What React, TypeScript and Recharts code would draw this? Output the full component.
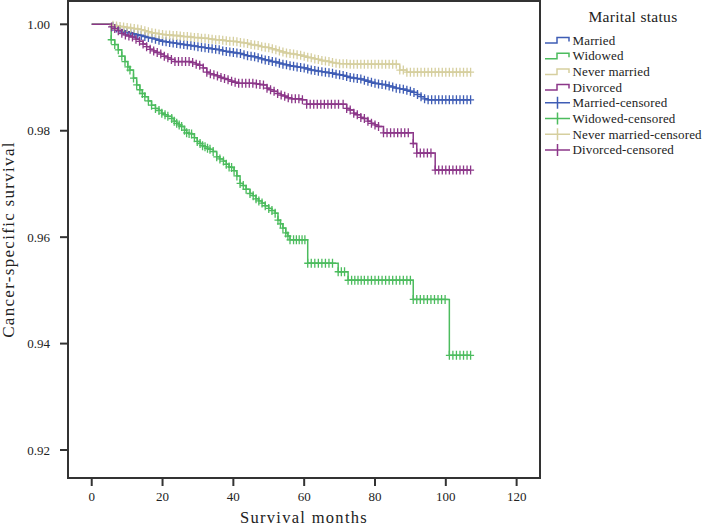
import { Legend, Line, LineChart, ReferenceArea, XAxis, YAxis } from 'recharts';

// Kaplan-Meier points [month, survival]; the first two points of each curve carry no censor mark
const married: [number, number][] = [
  [0, 1], [5.5, 1], [6, 0.9996], [7, 0.9993], [8, 0.999], [9, 0.9988], [10, 0.9986], [11, 0.9984],
  [12, 0.9982], [13, 0.998], [14, 0.9979], [15, 0.9977], [16, 0.9975], [17, 0.9974], [18, 0.9972],
  [19, 0.997], [20, 0.9968], [21, 0.9967], [22, 0.9966], [23, 0.9965], [24, 0.9964], [25, 0.9963],
  [26, 0.9962], [27, 0.9961], [28, 0.996], [29, 0.9959], [30, 0.9958], [31, 0.9957], [32, 0.9956],
  [33, 0.9955], [34, 0.9954], [35, 0.9953], [36, 0.9952], [37, 0.995], [38, 0.9949], [39, 0.9948],
  [40, 0.9947], [41, 0.9946], [42, 0.9945], [43, 0.9943], [44, 0.9941], [45, 0.994], [46, 0.9939],
  [47, 0.9937], [48, 0.9935], [49, 0.9933], [50, 0.9932], [51, 0.993], [52, 0.9929], [53, 0.9927],
  [54, 0.9925], [55, 0.9924], [56, 0.9922], [57, 0.9921], [58, 0.992], [59, 0.9919], [60, 0.9918],
  [61, 0.9916], [62, 0.9914], [63, 0.9913], [64, 0.9912], [65, 0.9911], [66, 0.991], [67, 0.9909],
  [68, 0.9908], [69, 0.9906], [70, 0.9905], [71, 0.9904], [72, 0.9902], [73, 0.99], [74, 0.9899],
  [75, 0.9898], [76, 0.9897], [77, 0.9895], [78, 0.9893], [79, 0.9891], [80, 0.9889], [81, 0.9888],
  [82, 0.9887], [83, 0.9886], [84, 0.9884], [85, 0.9882], [86, 0.988], [87, 0.9879], [88, 0.9878],
  [89, 0.9876], [90, 0.9874], [91, 0.9872], [92, 0.9868], [93, 0.9864], [94, 0.986], [95, 0.9858],
  [96, 0.9858], [97, 0.9858], [98, 0.9858], [99, 0.9858], [100, 0.9858], [101, 0.9858], [102, 0.9858],
  [103, 0.9858], [104, 0.9858], [105, 0.9858], [106, 0.9858], [107, 0.9858],
];

const widowed: [number, number][] = [
  [0, 1], [5, 1], [5.5, 0.9971], [6.5, 0.9962], [7.5, 0.9952], [8.5, 0.994], [9.4, 0.993], [10.2, 0.992],
  [10.8, 0.9914], [11.8, 0.9899], [12.7, 0.9886], [13.6, 0.9877], [14.3, 0.987], [15, 0.9864], [16, 0.9856],
  [16.9, 0.9848], [18, 0.9842], [19, 0.9838], [19.8, 0.9833], [20.7, 0.983], [21.5, 0.9827], [22.6, 0.9823],
  [23.3, 0.9818], [24, 0.9814], [24.7, 0.9811], [25.4, 0.9808], [26.2, 0.9801], [26.8, 0.9796], [27.5, 0.9795],
  [28.2, 0.9794], [29, 0.9787], [29.8, 0.978], [30.6, 0.9776], [31.3, 0.9772], [32, 0.977], [32.7, 0.9767],
  [33.4, 0.9765], [34.3, 0.9761], [35.3, 0.9751], [36.2, 0.9747], [37.2, 0.9743], [38, 0.9737], [38.8, 0.9732],
  [39.5, 0.9731], [40.2, 0.9725], [41, 0.9715], [41.9, 0.9701], [42.8, 0.9697], [43.6, 0.969], [44.7, 0.9682],
  [45.6, 0.9678], [46.4, 0.9672], [47.2, 0.9668], [48.1, 0.9664], [49, 0.9659], [50, 0.9654], [50.9, 0.965],
  [51.8, 0.9645], [52.6, 0.9632], [53.3, 0.9625], [54, 0.9617], [54.8, 0.9608], [55.4, 0.9602], [56, 0.9595],
  [57, 0.9595], [57.8, 0.9595], [58.6, 0.9595], [59.4, 0.9595], [60.2, 0.9595], [61, 0.9551], [62, 0.9551],
  [63, 0.9551], [64, 0.9551], [65, 0.9551], [66, 0.9551], [67, 0.9551], [68, 0.9551], [69.6, 0.9535],
  [70.5, 0.9535], [71.4, 0.9535], [72.4, 0.9519], [73.4, 0.9519], [74.3, 0.9519], [75.2, 0.9519], [76.1, 0.9519],
  [77, 0.9519], [78, 0.9519], [79, 0.9519], [80, 0.9519], [81, 0.9519], [82, 0.9519], [83, 0.9519], [84, 0.9519],
  [85, 0.9519], [86, 0.9519], [87, 0.9519], [88, 0.9519], [89, 0.9519], [90, 0.9519], [90.8, 0.9483],
  [91.8, 0.9483], [92.8, 0.9483], [93.8, 0.9483], [94.8, 0.9483], [95.8, 0.9483], [96.8, 0.9483], [97.8, 0.9483],
  [98.8, 0.9483], [99.8, 0.9483], [101, 0.9378], [102, 0.9378], [103, 0.9378], [104, 0.9378], [105, 0.9378],
  [106, 0.9378], [107, 0.9378],
];

const neverMarried: [number, number][] = [
  [0, 1], [5, 1], [6, 0.9998], [7, 0.9997], [8, 0.9996], [9, 0.9995], [10, 0.9994], [11, 0.9993], [12, 0.9992],
  [13, 0.9991], [14, 0.999], [15, 0.9988], [16, 0.9986], [17, 0.9984], [18, 0.9983], [19, 0.9982], [20, 0.9981],
  [21, 0.998], [22, 0.998], [23, 0.9979], [24, 0.9979], [25, 0.9978], [26, 0.9977], [27, 0.9977], [28, 0.9976],
  [29, 0.9975], [30, 0.9975], [31, 0.9974], [32, 0.9974], [33, 0.9973], [34, 0.9972], [35, 0.9971], [36, 0.9971],
  [37, 0.997], [38, 0.9969], [39, 0.9968], [40, 0.9968], [41, 0.9967], [42, 0.9966], [43, 0.9965], [44, 0.9964],
  [45, 0.9962], [46, 0.9961], [47, 0.996], [48, 0.9958], [49, 0.9957], [50, 0.9956], [51, 0.9954], [52, 0.9952],
  [53, 0.995], [54, 0.9948], [55, 0.9946], [56, 0.9945], [57, 0.9944], [58, 0.9943], [59, 0.9942], [60, 0.994],
  [61, 0.9938], [62, 0.9937], [63, 0.9935], [64, 0.9934], [65, 0.9932], [66, 0.9931], [67, 0.993], [68, 0.9928],
  [69, 0.9927], [70, 0.9926], [71, 0.9926], [72, 0.9926], [73, 0.9925], [74, 0.9925], [75, 0.9925], [76, 0.9925],
  [77, 0.9925], [78, 0.9925], [79, 0.9925], [80, 0.9925], [81, 0.9925], [82, 0.9925], [83, 0.9925], [84, 0.9925],
  [85, 0.9925], [86, 0.9925], [87, 0.9914], [88, 0.9914], [89, 0.991], [90, 0.991], [91, 0.991], [92, 0.991],
  [93, 0.991], [94, 0.991], [95, 0.991], [96, 0.991], [97, 0.991], [98, 0.991], [99, 0.991], [100, 0.991],
  [101, 0.991], [102, 0.991], [103, 0.991], [104, 0.991], [105, 0.991], [106, 0.991], [107, 0.991],
];

const divorced: [number, number][] = [
  [0, 1], [5, 1], [5.6, 0.9995], [6.5, 0.9992], [7.5, 0.9988], [8.5, 0.9983], [9.5, 0.998], [10.5, 0.9978],
  [11.5, 0.9976], [12.5, 0.9972], [13.5, 0.9968], [14.5, 0.9963], [15.5, 0.9958], [16.5, 0.9953], [17.5, 0.995],
  [18.5, 0.9947], [19.5, 0.9944], [20.5, 0.994], [21.5, 0.9937], [22.5, 0.9934], [23.5, 0.993], [24.5, 0.993],
  [25.5, 0.993], [26.5, 0.993], [27.5, 0.993], [28.5, 0.9928], [29.5, 0.9925], [30.5, 0.9923], [31.5, 0.9918],
  [32.5, 0.991], [33.5, 0.9907], [34.5, 0.9905], [35.5, 0.9903], [36.5, 0.99], [37.5, 0.9898], [38.5, 0.9896],
  [39.5, 0.9893], [40.5, 0.9891], [41.5, 0.9889], [42.5, 0.9889], [43.5, 0.9889], [44.5, 0.9889], [45.5, 0.9889],
  [46.5, 0.9888], [47.5, 0.9887], [48.5, 0.9886], [49.5, 0.988], [50.5, 0.9877], [51.5, 0.9874], [52.5, 0.987],
  [53.5, 0.9867], [54.5, 0.9865], [55.5, 0.9862], [56.5, 0.986], [57.5, 0.986], [58.5, 0.986], [59.5, 0.9858],
  [60.7, 0.985], [61.7, 0.985], [62.7, 0.985], [63.7, 0.985], [64.7, 0.985], [65.7, 0.985], [66.7, 0.985],
  [67.7, 0.985], [68.7, 0.985], [69.7, 0.985], [71, 0.985], [72, 0.9842], [73, 0.9839], [74, 0.9833], [75, 0.983],
  [76, 0.9825], [77, 0.9823], [78, 0.9818], [79, 0.9814], [80, 0.9811], [81, 0.9808], [82.4, 0.9796], [83.4, 0.9796],
  [84.4, 0.9796], [85.4, 0.9796], [86.4, 0.9796], [87.4, 0.9796], [88.4, 0.9796], [89.4, 0.9796], [90.8, 0.9776],
  [91.8, 0.9758], [92.8, 0.9758], [93.8, 0.9758], [94.8, 0.9758], [95.8, 0.9758], [97, 0.9726], [98, 0.9726],
  [99, 0.9726], [100, 0.9726], [101, 0.9726], [102, 0.9726], [103, 0.9726], [104, 0.9726], [105, 0.9726],
  [106, 0.9726], [107, 0.9726],
];

const groupNames = ['Married', 'Widowed', 'Never married', 'Divorced'];
const groupColors = ['#3f5db5', '#4cbc5e', '#d6cf9f', '#8c3789'];
const groupData = [married, widowed, neverMarried, divorced];

const X_TICKS = [0, 20, 40, 60, 80, 100, 120];
const Y_TICKS = [0.92, 0.94, 0.96, 0.98, 1.0];
const X_DOMAIN: [number, number] = [-6.7, 126.6];
const Y_DOMAIN: [number, number] = [0.91474, 1.00438];

const FONT = '"Liberation Serif", "DejaVu Serif", serif';
const INK = '#333';

function censorDot(color: string) {
  return (props: any) => {
    const { cx, cy, index } = props;
    if (index < 2 || cx == null || cy == null) return <g key={`c${index}`} />;
    return (
      <path
        key={`c${index}`}
        d={`M${cx - 3.5},${cy}H${cx + 3.5}M${cx},${cy - 4.5}V${cy + 4.5}`}
        stroke={color}
        strokeWidth={1.3}
        fill="none"
      />
    );
  };
}

function KmLegend() {
  const rows = [
    ...groupNames.map((name, i) => ({ label: name, color: groupColors[i], censored: false })),
    ...groupNames.map((name, i) => ({ label: `${name}-censored`, color: groupColors[i], censored: true })),
  ];
  return (
    <svg width={169} height={165} style={{ fontFamily: FONT }}>
      <text x={93} y={22} textAnchor="middle" fontSize={15.5} fill="#222" letterSpacing={0.3}>
        Marital status
      </text>
      {rows.map((r, i) => {
        const y = 40 + i * 15.7;
        const icon = r.censored
          ? `M5,${y}H30M17.5,${y - 6}V${y + 6}`
          : `M5,${y + 3}H17V${y - 2.5}H29V${y + 1.5}`;
        return (
          <g key={r.label}>
            <path d={icon} stroke={r.color} strokeWidth={1.5} fill="none" />
            <text x={32.5} y={y + 4.5} fontSize={13} fill="#222" letterSpacing={0.15}>
              {r.label}
            </text>
          </g>
        );
      })}
    </svg>
  );
}

export default function App() {
  return (
    <div style={{ position: 'absolute', left: 0, top: 0, background: '#fff' }}>
      <LineChart width={709} height={529} margin={{ top: 1, right: 0, bottom: 0, left: 8 }}>
        <XAxis
          type="number"
          dataKey="t"
          domain={X_DOMAIN}
          ticks={X_TICKS}
          allowDataOverflow
          axisLine={false}
          tickSize={8}
          tickMargin={6}
          height={51}
          tickLine={{ stroke: INK, strokeWidth: 2 }}
          tick={{ fontSize: 13, fill: '#222', fontFamily: FONT }}
          label={{
            content: ({ viewBox }: any) => (
              <text
                x={viewBox.x + viewBox.width / 2}
                y={523}
                textAnchor="middle"
                fontSize={16.5}
                fill="#222"
                letterSpacing={1.3}
                fontFamily={FONT}
              >
                Survival months
              </text>
            ),
          }}
        />
        <YAxis
          type="number"
          dataKey="s"
          domain={Y_DOMAIN}
          ticks={Y_TICKS}
          allowDataOverflow
          width={60}
          axisLine={false}
          tickSize={8}
          tickMargin={10}
          tickLine={{ stroke: INK, strokeWidth: 2 }}
          tickFormatter={(v: number) => v.toFixed(2)}
          tick={{ fontSize: 13, fill: '#222', fontFamily: FONT }}
          label={{
            content: ({ viewBox }: any) => {
              const cy = viewBox.y + viewBox.height / 2;
              return (
                <text
                  x={14}
                  y={cy}
                  transform={`rotate(-90 14 ${cy})`}
                  textAnchor="middle"
                  fontSize={17}
                  fill="#222"
                  letterSpacing={1.3}
                  fontFamily={FONT}
                >
                  Cancer-specific survival
                </text>
              );
            },
          }}
        />
        <ReferenceArea
          x1={X_DOMAIN[0]}
          x2={X_DOMAIN[1]}
          y1={Y_DOMAIN[0]}
          y2={Y_DOMAIN[1]}
          fill="none"
          stroke={INK}
          strokeWidth={2}
        />
        {groupData.map((pts, i) => (
          <Line
            key={groupNames[i]}
            name={groupNames[i]}
            data={pts.map(([t, s]) => ({ t, s }))}
            dataKey="s"
            type="stepAfter"
            stroke={groupColors[i]}
            strokeWidth={1.5}
            dot={censorDot(groupColors[i])}
            activeDot={false}
            isAnimationActive={false}
          />
        ))}
        <Legend
          layout="vertical"
          align="right"
          verticalAlign="top"
          content={<KmLegend />}
          wrapperStyle={{ width: 169, height: 165, top: 0, right: 0 }}
        />
      </LineChart>
    </div>
  );
}
